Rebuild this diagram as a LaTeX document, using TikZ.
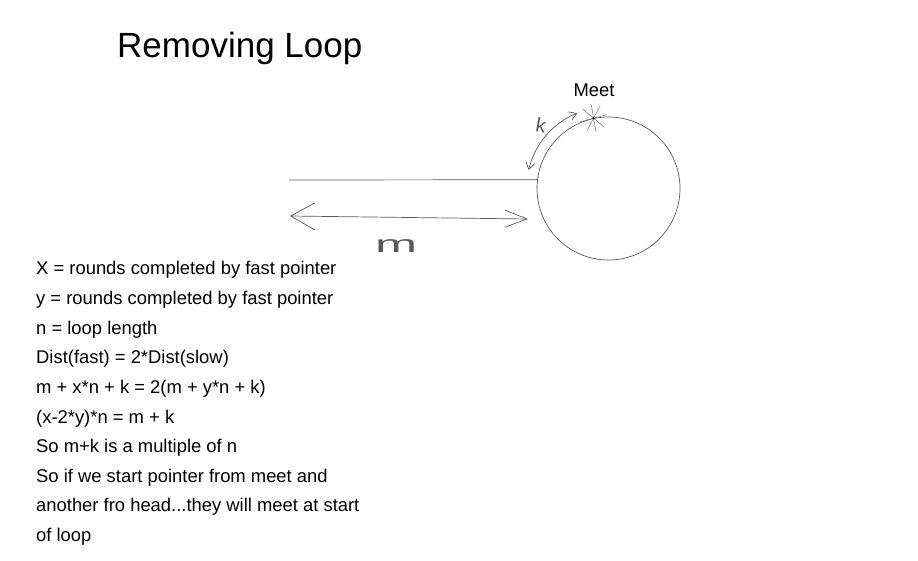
\documentclass[tikz,border=0pt]{standalone}
\usepackage{fontspec}
\setmainfont{Liberation Sans}
\usetikzlibrary{arrows.meta}
\newcommand\tridots{...}

\begin{document}
\begin{tikzpicture}[x=1pt, y=1pt,
    txt/.style={font=\fontsize{18.4}{22}\selectfont, inner sep=0pt, anchor=base west},
    pen/.style={draw=black!65, line width=0.7pt},
    hand/.style={text=black!65, inner sep=0pt}
  ]
  \useasboundingbox[fill=white] (0,0) rectangle (918,560);
  % title
  \node[txt, font=\fontsize{35}{40}\selectfont] (title) at (117,502) {Removing Loop};
  % the loop
  \node[circle, pen, minimum size=143pt, inner sep=0pt] (loop) at (608.5,371.5) {};
  \coordinate (tail) at (289,380);
  \draw[pen] (tail) -- (loop.173.6);
  % meet point
  \coordinate (meet) at (loop.102);
  \foreach \a in {15,62,100,140}
    \draw[black!50, line width=0.6pt] ([shift={(\a:14)}]meet) -- ([shift={(\a+180:14)}]meet);
  \fill[black] (meet) circle (1.2pt);
  \node[txt, anchor=base] (meetlab) at (594,463) {Meet};
  % k along the loop
  \draw[pen, {Straight Barb[length=7pt,width=9pt]}-{Straight Barb[length=7pt,width=9pt]}]
        ([shift={(167:82)}]loop.center) arc[start angle=167, end angle=112, radius=81];
  \node[hand, font=\fontsize{20}{20}\selectfont, rotate=-10] (klab) at (541,435) {k};
  % m along the tail
  \coordinate (mL) at (290,344);
  \coordinate (mR) at (528,341);
  \draw[pen, {Straight Barb[length=24pt,width=27pt]}-{Straight Barb[length=22pt,width=17pt]}]
        (mL) -- (mR);
  \node[hand, font=\fontsize{24}{24}\selectfont] (mlab) at (396,314) {\scalebox{2.1}[1]{m}};
  % notes
  \foreach \txt [count=\i from 0] in {
      {X = rounds completed by fast pointer},
      {y = rounds completed by fast pointer},
      {n = loop length},
      {Dist(fast) = 2*Dist(slow)},
      {m + x*n + k = 2(m + y*n + k)},
      {(x-2*y)*n = m + k},
      {So m+k is a multiple of n},
      {So if we start pointer from meet and},
      {another fro head\tridots they will meet at start},
      {of loop}}
    \node[txt] (note\i) at (36,285-29.6*\i) {\txt};
\end{tikzpicture}
\end{document}
